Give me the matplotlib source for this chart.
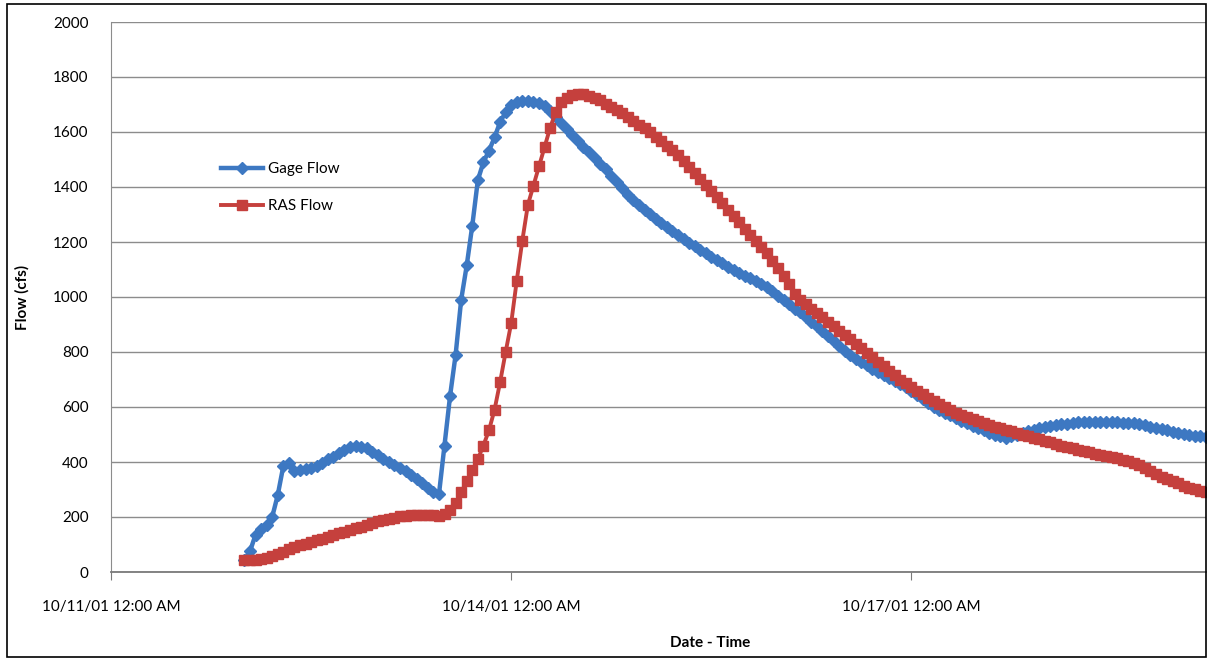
import pandas as pd
import numpy as np
import matplotlib.pyplot as plt
import matplotlib.dates as mdates
from matplotlib.patches import Rectangle

# hourly series, starting 10/12/01 12:00 AM
start_time = '2001-10-12 00:00'

gage_flow = [
    45, 75, 135, 155, 170, 200, 280, 385, 398, 368,
    370, 373, 378, 385, 398, 410, 420, 432, 445, 453,
    457, 456, 450, 438, 425, 410, 400, 390, 380, 368,
    352, 338, 322, 305, 292, 282, 460, 640, 790, 990,
    1115, 1260, 1425, 1490, 1532, 1580, 1636, 1672, 1698, 1710,
    1713, 1713, 1710, 1705, 1693, 1678, 1656, 1634, 1612, 1590,
    1568, 1547, 1526, 1505, 1485, 1464, 1441, 1418, 1395, 1372,
    1353, 1335, 1318, 1300, 1285, 1270, 1255, 1240, 1224, 1210,
    1197, 1185, 1172, 1160, 1147, 1134, 1122, 1110, 1098, 1088,
    1078, 1068, 1058, 1047, 1035, 1022, 1005, 989, 975, 958,
    945, 928, 910, 893, 876, 858, 840, 822, 804, 789,
    776, 764, 752, 740, 728, 716, 705, 694, 684, 672,
    657, 643, 628, 614, 601, 590, 580, 570, 560, 550,
    541, 532, 523, 515, 507, 500, 494, 488, 493, 499,
    505, 511, 517, 522, 527, 531, 535, 538, 540, 542,
    544, 545, 546, 547, 547, 546, 545, 544, 543,
    542, 541, 538, 534, 529, 524, 519, 515, 510, 505,
    501, 498, 496, 494, 492,
]

ras_flow = [
    42, 43, 45, 48, 52, 58, 66, 74, 82, 90,
    97, 103, 109, 115, 121, 128, 135, 141, 147, 153,
    159, 165, 171, 178, 184, 189, 194, 198, 202, 205,
    207, 208, 208, 207, 206, 205, 210, 225, 250, 290,
    330, 370, 410, 460, 515, 590, 690, 800, 905, 1060,
    1205, 1335, 1405, 1475, 1545, 1615, 1672, 1710, 1725, 1733,
    1738, 1737, 1731, 1723, 1715, 1703, 1692, 1681, 1669, 1655,
    1641, 1627, 1613, 1599, 1583, 1567, 1550, 1533, 1516, 1496,
    1474, 1452, 1430, 1408, 1386, 1363, 1340, 1317, 1294, 1271,
    1249, 1226, 1204, 1182, 1160, 1132, 1104, 1076, 1048, 1010,
    990, 974, 958, 942, 926, 910, 894, 878, 862, 846,
    830, 814, 798, 781, 765, 748, 731, 715, 700, 687,
    673, 660, 647, 634, 622, 610, 599, 589, 580, 572,
    564, 556, 549, 542, 535, 529, 523, 517, 511, 505,
    499, 493, 488, 482, 477, 471, 466, 460, 455, 450,
    445, 440, 435, 430, 426, 422, 418, 413, 408, 403,
    397, 390, 380, 368, 357, 347, 338, 330, 322, 314,
    307, 301, 296, 291,
]

tick_dates = ['2001-10-11', '2001-10-14', '2001-10-17']
x_start = '2001-10-11 00:00'
x_end = '2001-10-19 05:00'

times = pd.date_range(start_time, periods=len(ras_flow), freq='h')

plt.rcParams['font.family'] = ['Lato', 'DejaVu Sans']

fig = plt.figure(figsize=(12.09, 6.61), dpi=100)
ax = fig.add_axes([111 / 1209, 89 / 661, 1095 / 1209, 550 / 661])

blue = '#3D78C2'
red = '#C5403D'

ax.plot(times, gage_flow, color=blue, lw=3.2, marker='D', ms=6,
        mec=blue, mfc=blue, label='Gage Flow', zorder=3)
ax.plot(times, ras_flow, color=red, lw=2.8, marker='s', ms=7.5,
        mec=red, mfc=red, label='RAS Flow', zorder=4)

ax.set_ylim(0, 2000)
ax.set_yticks(np.arange(0, 2001, 200))
ax.set_xlim(pd.Timestamp(x_start), pd.Timestamp(x_end))
ax.set_xticks(pd.to_datetime(tick_dates))
ax.xaxis.set_major_formatter(mdates.DateFormatter('%m/%d/%y %I:%M %p'))

ax.grid(axis='y', color='#8c8c8c', lw=1)
ax.set_axisbelow(True)
for s in ['top', 'right']:
    ax.spines[s].set_visible(False)
ax.spines['left'].set_color('#8c8c8c')
ax.spines['bottom'].set_color('#7a7a7a')
ax.spines['bottom'].set_linewidth(1.3)

ax.tick_params(axis='y', length=0, pad=16, labelsize=11)
ax.tick_params(axis='x', length=6, color='#7a7a7a', pad=14, labelsize=11)

ax.set_xlabel('Date - Time', fontsize=11, fontweight='bold')
ax.xaxis.set_label_coords(0.547, -0.117)
ax.set_ylabel('Flow (cfs)', fontsize=11, fontweight='bold')
ax.yaxis.set_label_coords(-0.074, 0.5)

ax.legend(loc='upper left', bbox_to_anchor=(0.1, 0.745), frameon=False,
          fontsize=11, handlelength=2.8, labelspacing=1.5, handletextpad=0.3,
          borderpad=0, borderaxespad=0)

fig.patches.append(Rectangle((7 / 1209, 4 / 661), 1199 / 1209, 653 / 661,
                             transform=fig.transFigure, fill=False,
                             edgecolor='black', lw=1.2))

fig.savefig('out.png', dpi=100)
